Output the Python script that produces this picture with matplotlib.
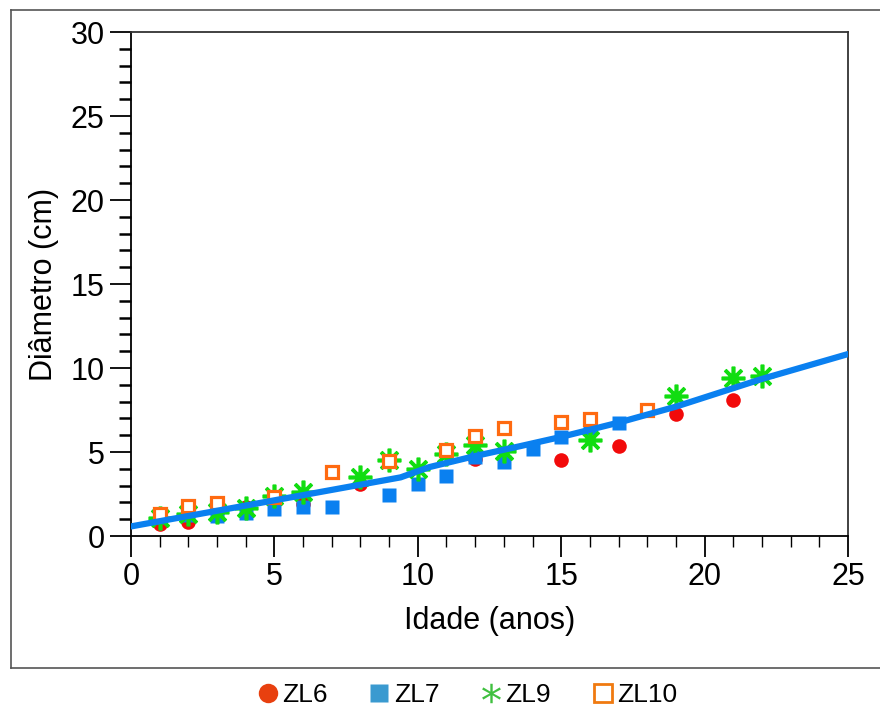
import matplotlib
matplotlib.use("Agg")
import matplotlib.pyplot as plt
from matplotlib.lines import Line2D
from matplotlib.ticker import MultipleLocator

plt.rcParams["font.family"] = ["Liberation Sans", "DejaVu Sans"]

# data
zl6_age = [1, 2, 3, 4, 5, 6, 8, 12, 15, 17, 19, 21]
zl6_diam = [0.7, 0.85, 1.4, 1.7, 1.95, 1.9, 3.1, 4.6, 4.55, 5.35, 7.25, 8.1]

zl7_age = [1, 2, 3, 4, 5, 6, 7, 9, 10, 11, 12, 13, 14, 15, 16, 17]
zl7_diam = [1.15, 1.25, 1.2, 1.35, 1.6, 1.75, 1.75, 2.45, 3.1, 3.55, 4.7, 4.4, 5.2, 5.9, 6.4, 6.75]

zl9_age = [1, 2, 3, 4, 5, 6, 8, 9, 10, 11, 12, 13, 16, 19, 21, 22]
zl9_diam = [1.1, 1.3, 1.4, 1.65, 2.4, 2.6, 3.5, 4.5, 4.0, 4.9, 5.4, 5.05, 5.7, 8.35, 9.4, 9.55]

zl10_age = [1, 2, 3, 5, 7, 9, 11, 12, 13, 15, 16, 18]
zl10_diam = [1.3, 1.8, 1.95, 2.3, 3.8, 4.45, 5.1, 5.95, 6.45, 6.8, 6.95, 7.5]

# fitted curve
fit_age = [0, 9.4, 10.4, 12, 13.6, 15, 17, 19, 22, 25]
fit_diam = [0.57, 3.49, 4.1, 4.76, 5.36, 5.9, 6.75, 7.7, 9.35, 10.83]

W, H = 880, 713
fig = plt.figure(figsize=(W / 100, H / 100), dpi=100)

# outer frame of the original figure (top, left, bottom; right edge is cut off)
def px(x, y):
    return x / W, 1 - y / H

for (x0, y0), (x1, y1) in [((11, 10), (900, 10)), ((11, 10), (11, 668)),
                           ((11, 668), (900, 668))]:
    a, b = px(x0, y0)
    c, d = px(x1, y1)
    fig.add_artist(Line2D([a, c], [b, d], color="#555555", lw=1.2))

ax = fig.add_axes([131 / W, 1 - 536 / H, (848 - 131) / W, (536 - 32) / H])

ax.plot(zl6_age, zl6_diam, "o", color="#f20a0a", ms=10.5, mec="none", zorder=3)
ax.plot(zl7_age, zl7_diam, "s", color="#0a80f0", ms=10.5, mec="none", zorder=4)
ax.plot(zl9_age, zl9_diam, marker=(8, 2, 0), ls="none", color="#11dd11",
        ms=17, mew=2.6, zorder=5)
ax.plot(zl10_age, zl10_diam, "s", mfc="white", mec="#ff6a10", ms=9, mew=2.3,
        ls="none", zorder=6)
ax.plot(fit_age, fit_diam, "-", color="#0a80f0", lw=4.5, solid_capstyle="round",
        solid_joinstyle="round", zorder=7)

ax.set_xlim(0, 25)
ax.set_ylim(0, 30)
ax.xaxis.set_major_locator(MultipleLocator(5))
ax.xaxis.set_minor_locator(MultipleLocator(1))
ax.yaxis.set_major_locator(MultipleLocator(5))
ax.yaxis.set_minor_locator(MultipleLocator(1))
ax.tick_params(which="major", direction="out", length=15, width=1.3,
               labelsize=22, pad=4, colors="black")
ax.tick_params(axis="y", which="minor", direction="out", length=9, width=1.8)
ax.tick_params(axis="x", which="minor", direction="out", length=8, width=1.0)

for side in ["left", "bottom"]:
    ax.spines[side].set_linewidth(1.3)
    ax.spines[side].set_color("black")
for side in ["top", "right"]:
    ax.spines[side].set_linewidth(1.3)
    ax.spines[side].set_color("#333333")

ax.set_xlabel("Idade (anos)", fontsize=22, labelpad=10)
ax.set_ylabel("Diâmetro (cm)", fontsize=22, labelpad=8)

handles = [
    Line2D([], [], marker="o", ls="none", color="#e8400f", ms=14, mec="none"),
    Line2D([], [], marker="s", ls="none", color="#3a9ad0", ms=13, mec="none"),
    Line2D([], [], marker="$*$", ls="none", color="#40c040", ms=14, mec="none"),
    Line2D([], [], marker="s", ls="none", mfc="white", mec="#f07a10", ms=13, mew=2),
]
fig.legend(handles, ["ZL6", "ZL7", "ZL9", "ZL10"], loc="center",
           bbox_to_anchor=(468 / W, 1 - 695 / H), ncol=4, frameon=False,
           fontsize=19, handlelength=0.7, handletextpad=0.2,
           columnspacing=1.6)

fig.savefig("out.png", dpi=100)
